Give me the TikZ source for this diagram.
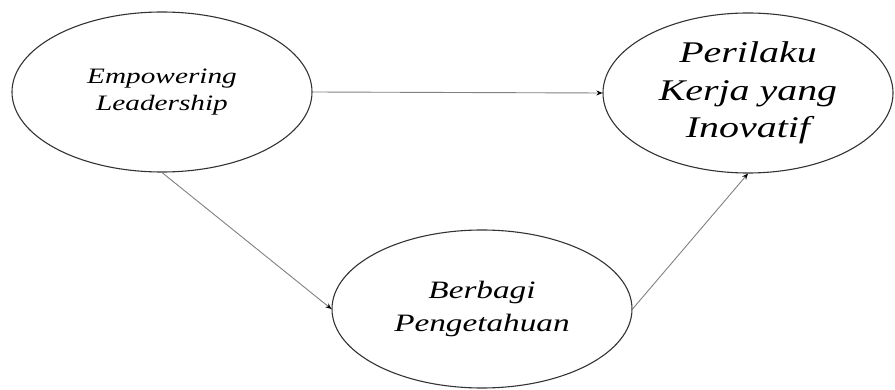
\documentclass[tikz,border=0pt]{standalone}
\usepackage{fontspec}
\setmainfont{Liberation Serif}
\newfontfamily\widefont[FakeStretch=1.33]{Liberation Serif}
\usetikzlibrary{shapes.geometric,arrows.meta}
\tikzset{
  var/.style={draw=black!80, line width=1.1pt, ellipse, inner sep=0pt, align=center},
  conn/.style={draw=black!50, line width=0.9pt, -{Stealth[length=6pt,width=5pt,black]}, shorten >=0pt}
}
\begin{document}
\begin{tikzpicture}[x=1pt,y=-1pt]
\useasboundingbox (0,0) rectangle (895,390);
\node[var, minimum width=300pt, minimum height=160pt, font=\widefont\fontsize{22}{27}\selectfont\itshape] (el) at (162,92) {Empowering\\Leadership};
\node[var, minimum width=290pt, minimum height=160pt, font=\widefont\fontsize{30}{37.5}\selectfont\itshape] (pk) at (748,93) {Perilaku\\Kerja yang\\Inovatif};
\node[var, minimum width=300pt, minimum height=158pt, font=\widefont\fontsize{25}{33}\selectfont\itshape] (bp) at (482,309) {Berbagi\\Pengetahuan};
\draw[conn] (el.east) -- (pk.west);
\draw[conn] (el.south) -- (bp.west);
\draw[conn] (bp.east) -- (pk.south);
\end{tikzpicture}
\end{document}
